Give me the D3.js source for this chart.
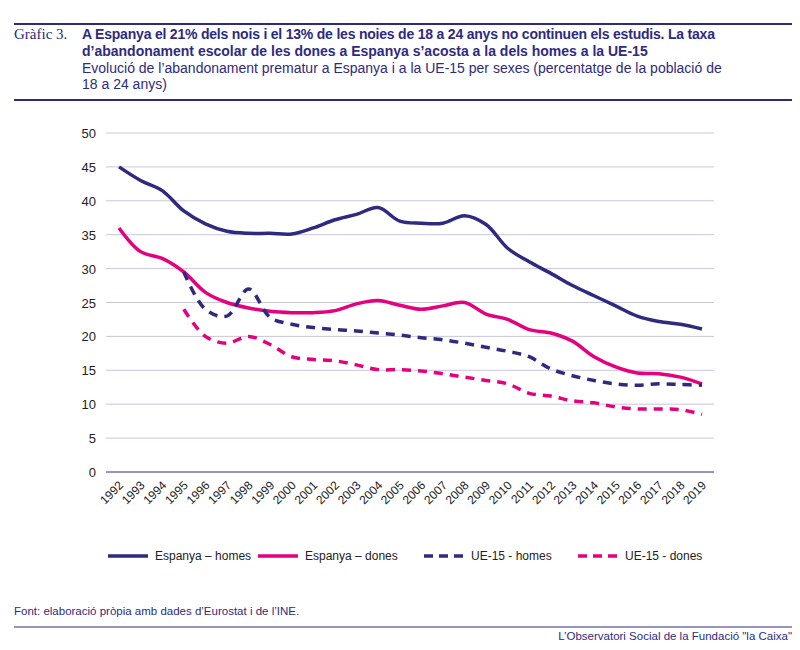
<!DOCTYPE html><html><head><meta charset="utf-8"><script src="https://cdn.jsdelivr.net/npm/d3@7"></script>
<style>body{margin:0;background:#fff}text{font-family:"Liberation Sans",Arial,sans-serif}</style></head><body><svg id="c" width="800" height="650"></svg>
<script>
const years=d3.range(1992,2020);
const espHomes=[45,43,41.5,38.5,36.6,35.5,35.2,35.2,35.1,36,37.2,38,39,37,36.7,36.7,37.8,36.5,33,31,29.3,27.5,26,24.5,23,22.2,21.8,21.1];
const espDones=[36,32.5,31.5,29.5,26.5,25,24.2,23.7,23.5,23.5,23.8,24.8,25.3,24.6,24,24.5,25,23.3,22.5,21,20.5,19.3,17,15.5,14.6,14.5,14,13];
const ueHomes=[null,null,null,29.5,24,23,27,22.8,21.8,21.3,21,20.8,20.5,20.2,19.8,19.5,19,18.4,17.8,17,15.2,14.2,13.5,13,12.8,13,12.9,12.8];
const ueDones=[null,null,null,24,20,19,20,18.8,17,16.6,16.4,15.8,15.1,15.1,14.9,14.5,14,13.5,13,11.6,11.2,10.5,10.2,9.6,9.3,9.3,9.2,8.5];
const yTicks=[0,5,10,15,20,25,30,35,40,45,50];
const seriesNames=["Espanya – homes","Espanya – dones","UE-15 - homes","UE-15 - dones"];
const navy="#2e2a7f",pink="#e5007d";
const series=[{n:seriesNames[0],v:espHomes,c:navy,d:null},{n:seriesNames[1],v:espDones,c:pink,d:null},{n:seriesNames[2],v:ueHomes,c:navy,d:"9,7"},{n:seriesNames[3],v:ueDones,c:pink,d:"9,7"}];
const svg=d3.select("#c");
[24,100].forEach(y=>svg.append("line").attr("x1",14).attr("x2",792).attr("y1",y).attr("y2",y).attr("stroke",navy).attr("stroke-width",2));
svg.append("line").attr("x1",14).attr("x2",792).attr("y1",627).attr("y2",627).attr("stroke",navy).attr("stroke-width",1);
svg.append("text").attr("x",14).attr("y",39).style("font-family","Liberation Serif,serif").attr("font-size",15).attr("fill",navy).text("Gràfic 3.");
const t=[["A Espanya el 21% dels nois i el 13% de les noies de 18 a 24 anys no continuen els estudis. La taxa",39,true],["d’abandonament escolar de les dones a Espanya s’acosta a la dels homes a la UE-15",56,true],["Evolució de l’abandonament prematur a Espanya i a la UE-15 per sexes (percentatge de la població de",73,false],["18 a 24 anys)",89,false]];
t.forEach(([s,y,b])=>svg.append("text").attr("x",82).attr("y",y).attr("font-size",14).attr("font-weight",b?"bold":"normal").attr("fill",navy).attr("textLength",b&&y==39?633:null).text(s));
const x=d3.scalePoint().domain(years).range([119,702]);
const y=d3.scaleLinear().domain([0,50]).range([472,133]);
const g=svg.append("g");
yTicks.forEach(v=>{g.append("line").attr("x1",106).attr("x2",714).attr("y1",y(v)).attr("y2",y(v)).attr("stroke",v==0?navy:"#c9c6dd").attr("stroke-width",1);
g.append("text").attr("x",96).attr("y",y(v)+5).attr("text-anchor","end").attr("font-size",13).attr("fill","#222").text(v);});
years.forEach(yr=>g.append("text").attr("transform",`translate(${x(yr)+5},${486}) rotate(-45)`).attr("text-anchor","end").attr("font-size",12).attr("fill","#222").text(yr));
const line=d3.line().defined(d=>d[1]!=null).x(d=>x(d[0])).y(d=>y(d[1])).curve(d3.curveCatmullRom.alpha(0.5));
series.forEach(s=>g.append("path").attr("d",line(years.map((yr,i)=>[yr,s.v[i]]))).attr("fill","none").attr("stroke",s.c).attr("stroke-width",3.5).attr("stroke-dasharray",s.d));
const lx=[108,258,424,578];
series.forEach((s,i)=>{svg.append("line").attr("x1",lx[i]).attr("x2",lx[i]+40).attr("y1",556).attr("y2",556).attr("stroke",s.c).attr("stroke-width",3.5).attr("stroke-dasharray",s.d?"9,6":null);
svg.append("text").attr("x",lx[i]+47).attr("y",560).attr("font-size",12).attr("fill","#222").text(s.n);});
svg.append("text").attr("x",14).attr("y",615).attr("font-size",11.5).attr("fill",navy).text("Font: elaboració pròpia amb dades d’Eurostat i de l’INE.");
svg.append("text").attr("x",792).attr("y",640).attr("text-anchor","end").attr("font-size",11.5).attr("fill",navy).text("L’Observatori Social de la Fundació \"la Caixa\"");
</script></body></html>
